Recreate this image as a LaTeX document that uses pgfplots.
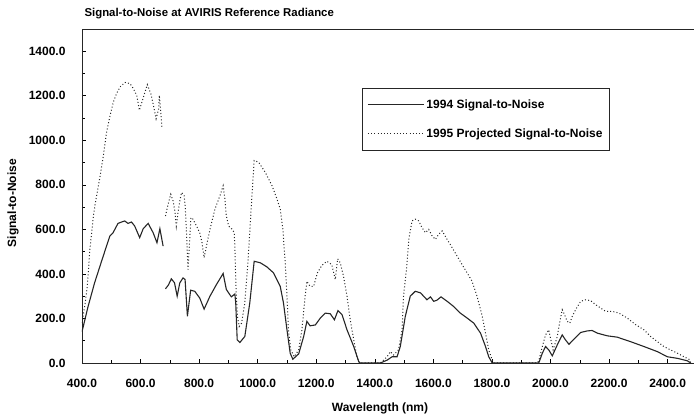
\documentclass[border=0pt]{standalone}
\usepackage{fontspec}
\setmainfont{Liberation Sans}
\usepackage{pgfplots}
\pgfplotsset{compat=1.18}
\begin{document}
\begin{tikzpicture}
\begin{axis}[
  scale only axis, width=612pt, height=334pt,
  xmin=400, xmax=2490, ymin=0, ymax=1500,
  xtick={400,600,...,2400}, minor x tick num=1,
  ytick={0,200,...,1400}, minor y tick num=1,
  tick align=inside, xtick pos=bottom, ytick pos=left,
  major tick length=4pt, minor tick length=3pt,
  tick style={black, line width=0.6pt},
  axis line style={line width=0.9pt, black!85},
  /pgf/number format/fixed, /pgf/number format/fixed zerofill,
  /pgf/number format/precision=1, /pgf/number format/1000 sep={},
  /pgf/number format/assume math mode=true,
  ticklabel style={font=\bfseries\fontsize{12}{13}\selectfont},
  xticklabel style={yshift=-13pt},
  yticklabel style={xshift=-13pt},
  xlabel={Wavelength (nm)}, ylabel={Signal-to-Noise},
  label style={font=\bfseries\fontsize{12}{13}\selectfont},
  xlabel style={at={(axis description cs:0.487,0)}, anchor=center, yshift=-45pt},
  ylabel style={at={(axis description cs:0,0.479)}, anchor=center, yshift=69pt},
  title={Signal-to-Noise at AVIRIS Reference Radiance},
  title style={at={(axis description cs:0,1)}, anchor=base west, yshift=6pt, xshift=-1pt, font=\bfseries\fontsize{11.4}{13}\selectfont},
  legend style={at={(axis description cs:0.4575,0.823)}, anchor=north west, draw=black!85, line width=0.8pt,
    inner xsep=5pt, inner ysep=9pt, row sep=15pt, font=\bfseries\fontsize{12}{13}\selectfont},
  legend cell align=left,
  legend image code/.code={\draw[#1] (0pt,0pt) -- (56pt,0pt);},
  unbounded coords=jump,
]
\addplot[black!85, line width=1.1pt] coordinates {
(400,140) (420,250) (443,360) (470,470) (495,570) (506,585) (523,627) (535,633) (546,638) (557,627) (569,633) (580,615) (597,563) (609,603) (626,627) (643,585) (656,540) (666,603) (677,525) (680,nan)
(685,333) (695,350) (705,378) (716,360) (725,300) (734,360) (745,382) (752,375) (760,210) (771,327) (785,322) (802,292) (817,242) (837,300) (859,352) (882,402) (893,330) (910,297) (922,310) (925,270) (930,104) (939,92) (956,119) (973,270) (988,457) (1009,450) (1031,432) (1054,405) (1077,344) (1088,270) (1100,149) (1111,44) (1120,17) (1140,41) (1157,119) (1168,187) (1179,167) (1197,171) (1214,202) (1231,224) (1248,221) (1262,194) (1274,235) (1288,217) (1305,149) (1328,74) (1345,6) (1350,0) (1419,0) (1442,13) (1459,28) (1476,28) (1487,74) (1504,209) (1521,300) (1538,322) (1556,315) (1578,284) (1590,297) (1601,277) (1612,282) (1626,297) (1647,277) (1669,254) (1692,224) (1715,202) (1738,179) (1761,134) (1778,74) (1789,28) (1801,0) (1960,0) (1972,44) (1983,74) (1994,59) (2006,32) (2023,81) (2040,126) (2051,104) (2063,84) (2080,107) (2103,137) (2125,144) (2142,146) (2160,134) (2194,122) (2228,116) (2273,96) (2319,74) (2365,51) (2399,28) (2433,21) (2467,10) (2479,0)
};
\addlegendentry{1994 Signal-to-Noise}
\addplot[black!85, line width=1pt, dash pattern=on 1pt off 2.2pt] coordinates {
(400,180) (410,260) (418,344) (427,510) (439,660) (444,706) (462,841) (473,932) (484,1037) (496,1112) (507,1172) (518,1210) (530,1240) (547,1260) (564,1255) (575,1233) (587,1202) (596,1135) (610,1195) (623,1250) (635,1210) (644,1157) (653,1097) (662,1142) (664,1202) (670,1112) (673,1052) (679,nan)
(685,660) (694,713) (703,758) (711,728) (717,683) (722,615) (728,676) (734,728) (740,766) (749,751) (753,691) (757,585) (762,420) (772,653) (779,646) (791,615) (802,585) (810,540) (817,473) (825,525) (837,600) (854,691) (871,751) (882,796) (888,736) (893,660) (901,615) (913,600) (920,585) (922,525) (924,420) (927,300) (931,209) (937,164) (945,179) (956,270) (968,480) (979,721) (988,909) (1003,902) (1026,856) (1049,796) (1066,736) (1077,691) (1086,600) (1094,450) (1100,300) (1105,149) (1113,59) (1125,28) (1140,59) (1151,149) (1162,300) (1168,367) (1179,344) (1191,344) (1204,405) (1219,438) (1236,457) (1253,442) (1265,375) (1273,468) (1282,450) (1293,390) (1305,300) (1316,194) (1328,104) (1339,28) (1348,0) (1419,0) (1442,28) (1453,51) (1464,36) (1481,59) (1493,149) (1498,300) (1508,420) (1516,555) (1527,638) (1538,646) (1550,638) (1561,608) (1573,585) (1584,600) (1596,570) (1607,555) (1618,578) (1630,593) (1647,555) (1664,518) (1681,480) (1698,442) (1715,405) (1732,367) (1749,300) (1767,209) (1778,134) (1789,59) (1801,13) (1805,0) (1955,0) (1960,10) (1972,74) (1983,126) (1994,149) (2000,111) (2009,59) (2023,119) (2032,187) (2040,239) (2048,217) (2057,187) (2066,179) (2074,209) (2089,247) (2103,277) (2120,284) (2137,280) (2154,262) (2171,247) (2188,232) (2211,232) (2234,224) (2262,202) (2291,172) (2319,149) (2342,119) (2365,96) (2387,74) (2410,59) (2433,44) (2456,28) (2473,17) (2479,0)
};
\addlegendentry{1995 Projected Signal-to-Noise}
\end{axis}
\pgfresetboundingbox
\path[use as bounding box] ([xshift=-82pt,yshift=-54pt]current axis.south west) rectangle ([yshift=29pt]current axis.north east);
\end{tikzpicture}
\end{document}
